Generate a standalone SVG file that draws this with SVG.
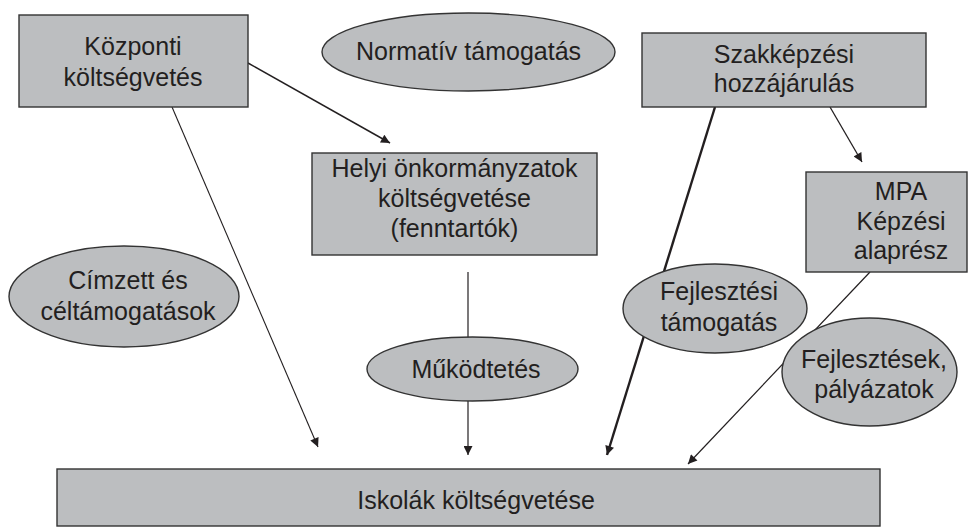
<svg xmlns="http://www.w3.org/2000/svg" width="970" height="529" viewBox="0 0 970 529">
<style>
.n{fill:#bcbec0;stroke:#333;stroke-width:1.4}
.t{font-family:"Liberation Sans",Arial,sans-serif;font-size:25px;fill:#231f20;text-anchor:middle}
.c{stroke:#231f20;fill:none}
</style>
<defs>
<marker id="ah" viewBox="0 0 10 10" refX="10" refY="5" markerWidth="11" markerHeight="9" markerUnits="userSpaceOnUse" orient="auto">
<path d="M0,0 L10,5 L0,10 z" fill="#231f20"/>
</marker>
</defs>
<rect width="970" height="529" fill="#fff"/>
<g id="connectors">
<line class="c" x1="248" y1="63" x2="390" y2="143" stroke-width="1.5" marker-end="url(#ah)"/>
<line class="c" x1="172" y1="107" x2="318" y2="447" stroke-width="1.1" marker-end="url(#ah)"/>
<line class="c" x1="830" y1="107" x2="862" y2="162" stroke-width="1.3" marker-end="url(#ah)"/>
<line class="c" x1="715" y1="107" x2="607" y2="455" stroke-width="2.4" marker-end="url(#ah)"/>
<line class="c" x1="468" y1="272" x2="468" y2="455" stroke-width="1.2" marker-end="url(#ah)"/>
<line class="c" x1="870" y1="272" x2="688" y2="464" stroke-width="1.2" marker-end="url(#ah)"/>
</g>
<g id="kozponti">
<rect class="n" x="19" y="15" width="229" height="92"/>
<text class="t" x="133" y="55">Központi</text>
<text class="t" x="133" y="86">költségvetés</text>
</g>
<g id="normativ">
<ellipse class="n" cx="468.5" cy="52" rx="146.5" ry="39"/>
<text class="t" x="468.5" y="60">Normatív támogatás</text>
</g>
<g id="szakkepzesi">
<rect class="n" x="642" y="33" width="284" height="74"/>
<text class="t" x="784" y="63">Szakképzési</text>
<text class="t" x="784" y="92">hozzájárulás</text>
</g>
<g id="helyi">
<rect class="n" x="312" y="153" width="285" height="102"/>
<text class="t" x="454.5" y="177">Helyi önkormányzatok</text>
<text class="t" x="454.5" y="207">költségvetése</text>
<text class="t" x="454.5" y="237">(fenntartók)</text>
</g>
<g id="mpa">
<rect class="n" x="806" y="172" width="161" height="100"/>
<text class="t" x="901" y="200">MPA</text>
<text class="t" x="901" y="230">Képzési</text>
<text class="t" x="901" y="259">alaprész</text>
</g>
<g id="cimzett">
<ellipse class="n" cx="124" cy="296.5" rx="115" ry="50.5"/>
<text class="t" x="128" y="289">Címzett és</text>
<text class="t" x="128" y="320">céltámogatások</text>
</g>
<g id="mukodtetes">
<ellipse class="n" cx="472.5" cy="369" rx="105.5" ry="32"/>
<text class="t" x="476" y="378">Működtetés</text>
</g>
<g id="fejlesztesi">
<ellipse class="n" cx="715" cy="308.5" rx="92" ry="44.5"/>
<text class="t" x="719" y="300">Fejlesztési</text>
<text class="t" x="719" y="331">támogatás</text>
</g>
<g id="fejlesztesek">
<ellipse class="n" cx="869.5" cy="372" rx="87.5" ry="54"/>
<text class="t" x="874" y="368">Fejlesztések,</text>
<text class="t" x="874" y="398">pályázatok</text>
</g>
<g id="iskolak">
<rect class="n" x="57" y="469" width="823" height="57"/>
<text class="t" x="476" y="509">Iskolák költségvetése</text>
</g>
</svg>
